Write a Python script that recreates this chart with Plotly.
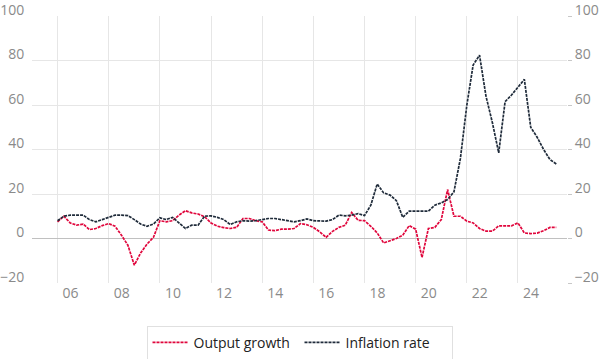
import pandas as pd
import plotly.graph_objects as go

# Quarterly observations, 2006Q1 .. 2025Q3
QUARTER_START = "2006-01-01"
N_QUARTERS = 79

output_growth = [
    7.5, 10, 7, 6, 6.5, 4, 4.5, 5.8, 6.7, 5.5,
    1.5, -3, -12, -6.5, -2.5, 0.5, 8, 7.5, 8, 10.5,
    12.5, 11.5, 11, 9.8, 7, 5.5, 4.9, 4.5, 5, 9,
    9, 8, 7.5, 3.8, 3.5, 4.2, 4.2, 4.5, 6.7, 6.2,
    5, 3, 0.5, 3.2, 5, 6, 11.7, 8.2, 8, 5.5,
    2.5, -2, -1, 0, 1.5, 5.8, 4.2, -8.5, 4.5, 5,
    8.5, 22, 10, 10, 7.8, 7, 4.5, 3.3, 3.3, 5.7,
    5.7, 5.7, 7, 2.5, 2.2, 2.4, 3.5, 5, 5,
]

inflation_rate = [
    8, 10, 10.5, 10.5, 10.5, 8.5, 7.5, 8.5, 9.5, 10.5,
    10.5, 10.3, 8.5, 6.5, 5.5, 6.5, 9.3, 8.5, 9.5, 7,
    4.5, 6, 6, 10, 10.2, 9.5, 8.5, 6.3, 7.5, 8,
    7.8, 8, 8.5, 9, 9, 8.5, 8, 7.5, 8, 8.8,
    8, 7.8, 7.8, 8.5, 10.5, 10.2, 10.5, 11.2, 10.3, 15,
    24.5, 20.5, 19.5, 17, 9.5, 12.3, 12.3, 12.3, 12.3, 15,
    16, 17.5, 21, 36, 60, 78, 82.4, 64, 52, 38.5,
    61.5, 64.5, 68, 71.5, 50, 45.5, 40, 35.5, 33.5,
]

TICK_YEARS = [2006, 2008, 2010, 2012, 2014, 2016, 2018, 2020, 2022, 2024]
TICK_TEXT = ["06", "08", "10", "12", "14", "16", "18", "20", "22", "24"]
Y_TICKS = [-20, 0, 20, 40, 60, 80, 100]

dates = pd.date_range(QUARTER_START, periods=N_QUARTERS, freq="QS")
tick_dates = [f"{y}-01-01" for y in TICK_YEARS]

RED = "#e0063c"
NAVY = "#1f2b3a"
GRID = "#e6e6e6"
TICKFONT = dict(family="Open Sans, sans-serif", size=14, color="#8a8a8a")

fig = go.Figure()
fig.add_trace(go.Scatter(
    x=dates, y=output_growth, mode="lines", name="Output growth",
    line=dict(color=RED, width=1.7, dash="3px,1px"),
))
fig.add_trace(go.Scatter(
    x=dates, y=inflation_rate, mode="lines", name="Inflation rate",
    line=dict(color=NAVY, width=1.7, dash="3px,1px"),
    yaxis="y2",
))

fig.update_layout(
    width=605, height=359,
    margin=dict(l=32, r=38, t=16, b=76, autoexpand=False),
    paper_bgcolor="white", plot_bgcolor="white",
    font=dict(family="Open Sans, sans-serif", size=14, color="#222222"),
    showlegend=True,
    legend=dict(
        orientation="h", x=0.5, xanchor="center", y=-0.16, yanchor="top",
        bordercolor="#e0e0e0", borderwidth=1,
        itemwidth=36, entrywidth=101, entrywidthmode="pixels",
        font=dict(family="Open Sans, sans-serif", size=14, color="#222222"),
    ),
    xaxis=dict(
        type="date", range=["2005-01-01", "2025-12-01"], automargin=False,
        tickmode="array", tickvals=tick_dates, ticktext=TICK_TEXT,
        ticklabelshift=13,
        showgrid=True, gridcolor=GRID, gridwidth=1,
        showline=False, zeroline=False, ticks="",
        tickfont=TICKFONT,
    ),
    yaxis=dict(
        range=[-20, 100], tickmode="array", tickvals=Y_TICKS, automargin=False,
        showgrid=True, gridcolor=GRID, gridwidth=1,
        zeroline=True, zerolinecolor="#c0c0c0", zerolinewidth=1,
        showline=False, ticks="outside", ticklen=4, tickcolor="rgba(0,0,0,0)",
        ticklabelshift=-6, ticklabeloverflow="allow",
        tickfont=TICKFONT,
    ),
    yaxis2=dict(
        range=[-20, 100], tickmode="array", tickvals=Y_TICKS, automargin=False,
        overlaying="y", side="right",
        showgrid=False, zeroline=False, showline=False,
        ticks="outside", ticklen=4, tickcolor="#c8c8c8",
        ticklabelshift=-6, ticklabeloverflow="allow",
        tickfont=TICKFONT,
    ),
)

fig.write_html(
    "out.html",
    config={"displayModeBar": False},
    post_script="document.body.style.margin='0';document.body.style.padding='0';",
)
